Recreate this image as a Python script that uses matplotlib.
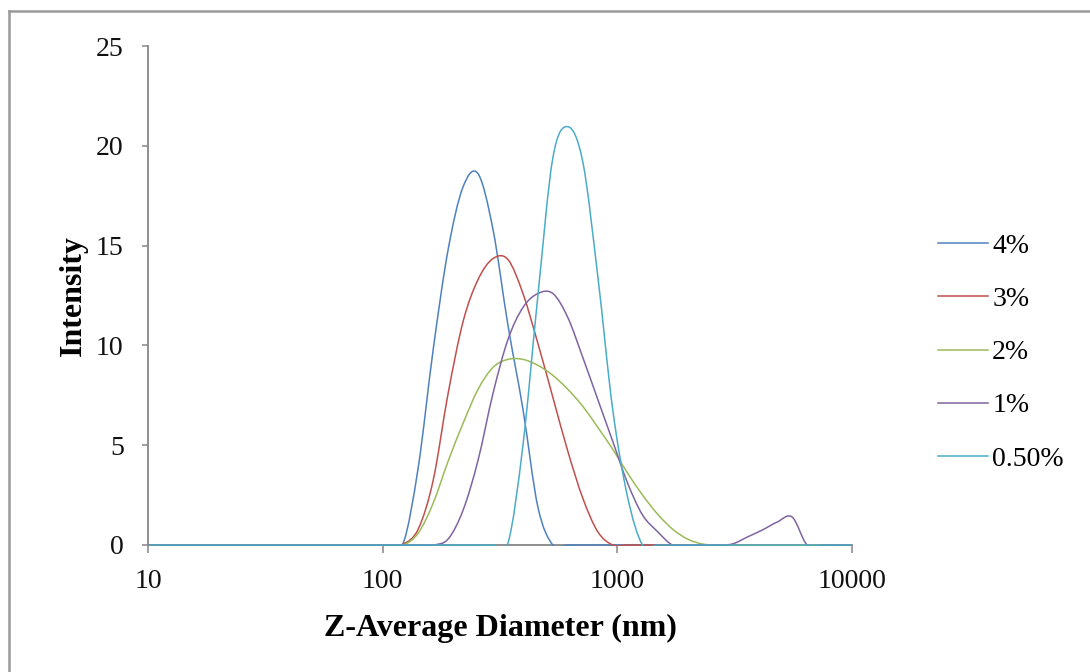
import numpy as np
import matplotlib
matplotlib.use("Agg")
import matplotlib.pyplot as plt
from matplotlib.path import Path
from matplotlib.patches import PathPatch, Rectangle
from matplotlib.lines import Line2D
from matplotlib.ticker import NullLocator

# ---------------- data ----------------
sizes_nm = [10.1, 11.7, 13.54, 15.69, 18.17, 21.04, 24.36, 28.21, 32.67, 37.84,
            43.82, 50.75, 58.77, 68.06, 78.82, 91.28, 105.7, 122.4, 141.8, 164.2,
            190.1, 220.2, 255.0, 295.3, 342.0, 396.1, 458.7, 531.2, 615.1, 712.4,
            825.0, 955.4, 1106, 1281, 1484, 1718, 1990, 2305, 2669, 3091,
            3580, 4145, 4801, 5560, 6439, 7456, 8635, 10000]

int_4pct = [0, 0, 0, 0, 0, 0, 0, 0, 0, 0,
            0, 0, 0, 0, 0, 0, 0, 0.1, 3.9, 9.8,
            14.8, 17.95, 18.6, 15.8, 11.0, 6.8, 1.9, 0, 0, 0,
            0, 0, 0, 0, 0, 0, 0, 0, 0, 0,
            0, 0, 0, 0, 0, 0, 0, 0]

int_3pct = [0, 0, 0, 0, 0, 0, 0, 0, 0, 0,
            0, 0, 0, 0, 0, 0, 0, 0.05, 0.8, 3.25,
            7.6, 11.2, 13.3, 14.35, 14.3, 12.6, 10.1, 7.4, 4.7, 2.35,
            0.67, 0, 0, 0, 0, 0, 0, 0, 0, 0,
            0, 0, 0, 0, 0, 0, 0, 0]

int_2pct = [0, 0, 0, 0, 0, 0, 0, 0, 0, 0,
            0, 0, 0, 0, 0, 0, 0, 0, 0.6, 2.1,
            4.2, 6.1, 7.8, 8.9, 9.3, 9.3, 9.0, 8.5, 7.8, 6.95,
            5.9, 4.8, 3.6, 2.5, 1.55, 0.8, 0.3, 0.05, 0, 0,
            0, 0, 0, 0, 0, 0, 0, 0]

int_1pct = [0, 0, 0, 0, 0, 0, 0, 0, 0, 0,
            0, 0, 0, 0, 0, 0, 0, 0, 0, 0,
            0.3, 1.75, 4.25, 7.6, 10.3, 11.9, 12.6, 12.6, 11.4, 9.4,
            7.3, 5.2, 3.1, 1.5, 0.67, 0, 0, 0, 0, 0.05,
            0.4, 0.75, 1.15, 1.4, 0, 0, 0, 0]

int_05pct = [0, 0, 0, 0, 0, 0, 0, 0, 0, 0,
             0, 0, 0, 0, 0, 0, 0, 0, 0, 0,
             0, 0, 0, 0, 0.1, 5.0, 12.5, 19.4, 20.96, 19.2,
             13.5, 6.8, 2.4, 0, 0, 0, 0, 0, 0, 0,
             0, 0, 0, 0, 0, 0, 0, 0]

series_labels = ["4%", "3%", "2%", "1%", "0.50%"]
series_values = [int_4pct, int_3pct, int_2pct, int_1pct, int_05pct]
series_colors = ["#4F81BD", "#C0504D", "#9BBB59", "#8064A2", "#4BACC6"]

x_ticks = [10, 100, 1000, 10000]
x_tick_labels = ["10", "100", "1000", "10000"]
y_ticks = [0, 5, 10, 15, 20, 25]

# ---------------- figure ----------------
W, H = 1090, 672
fig = plt.figure(figsize=(W / 100, H / 100), dpi=100)
fig.patch.set_facecolor("white")

serif = ["Liberation Serif", "DejaVu Serif"]
axis_gray = "#868686"

ax_h_px = 545 - 46
ax = fig.add_axes([148 / W, 1 - 545 / H, (852 - 148) / W, ax_h_px / H])
ax.set_xscale("log")
ax.set_xlim(10, 10000)
ax.set_ylim(0, 25)

ax.set_xticks(x_ticks)
ax.set_xticklabels(x_tick_labels)
ax.xaxis.set_minor_locator(NullLocator())
ax.set_yticks(y_ticks)
ax.set_yticklabels([str(v) for v in y_ticks])

for lab in ax.get_xticklabels() + ax.get_yticklabels():
    lab.set_fontfamily(serif)
    lab.set_fontsize(20)
    lab.set_color("#111111")

ax.tick_params(axis="x", direction="out", length=5.5, width=1.1, color=axis_gray, pad=12)
ax.tick_params(axis="y", direction="out", length=4.5, width=1.1, color=axis_gray, pad=13)

for side in ("top", "right"):
    ax.spines[side].set_visible(False)
for side in ("left", "bottom"):
    ax.spines[side].set_color(axis_gray)
    ax.spines[side].set_linewidth(1.3)

ax.set_xlabel("Z-Average Diameter (nm)", fontfamily=serif, fontsize=23, fontweight="bold")
ax.xaxis.set_label_coords(0.5, -0.139)
ax.set_ylabel("Intensity", fontfamily=serif, fontsize=23, fontweight="bold")
ax.yaxis.set_label_coords(-0.085, 0.5)

# clip region: plot area, extended by ~1 px below so the zero line is fully drawn
eps = 1.2 / ax_h_px
clip_rect = Rectangle((-0.01, -eps), 1.02, 1 + 2 * eps, transform=ax.transAxes,
                      facecolor="none", edgecolor="none")


def smooth_line(axis, xs, ys, color, lw=1.1):
    """Excel-like smoothed line: Catmull-Rom cubic Bezier through the data
    points, control points computed in display space."""
    pts = axis.transData.transform(np.column_stack([xs, ys]))
    n = len(pts)
    verts = [pts[0]]
    codes = [Path.MOVETO]
    for i in range(n - 1):
        p0 = pts[i - 1] if i > 0 else pts[i]
        p1 = pts[i]
        p2 = pts[i + 1]
        p3 = pts[i + 2] if i + 2 < n else pts[i + 1]
        c1 = p1 + (p2 - p0) / 6.0
        c2 = p2 - (p3 - p1) / 6.0
        verts += [c1, c2, p2]
        codes += [Path.CURVE4] * 3
    data_verts = axis.transData.inverted().transform(np.array(verts))
    patch = PathPatch(Path(data_verts, codes), fill=False, edgecolor=color,
                      linewidth=lw, zorder=3,
                      joinstyle="round", capstyle="butt")
    axis.add_patch(patch)
    patch.set_clip_path(clip_rect)


for vals, col in zip(series_values, series_colors):
    smooth_line(ax, sizes_nm, vals, col)

handles = [Line2D([], [], color=c, lw=1.1) for c in series_colors]
leg = fig.legend(handles, series_labels, loc="center left",
                 bbox_to_anchor=(938 / W, 1 - 352.5 / H),
                 frameon=False, borderpad=0, borderaxespad=0,
                 handlelength=1.8, handletextpad=0.15, labelspacing=1.0,
                 prop={"family": serif, "size": 20})

# outer chart border (top and left visible)
bx, by = 9 / W, 1 - 11 / H
fig.add_artist(Line2D([bx, 1.01], [by, by], color="#9a9a9a", lw=1.8,
                      transform=fig.transFigure))
fig.add_artist(Line2D([bx, bx], [-0.01, by], color="#9a9a9a", lw=1.8,
                      transform=fig.transFigure))

fig.savefig("out.png", dpi=100, facecolor="white")
